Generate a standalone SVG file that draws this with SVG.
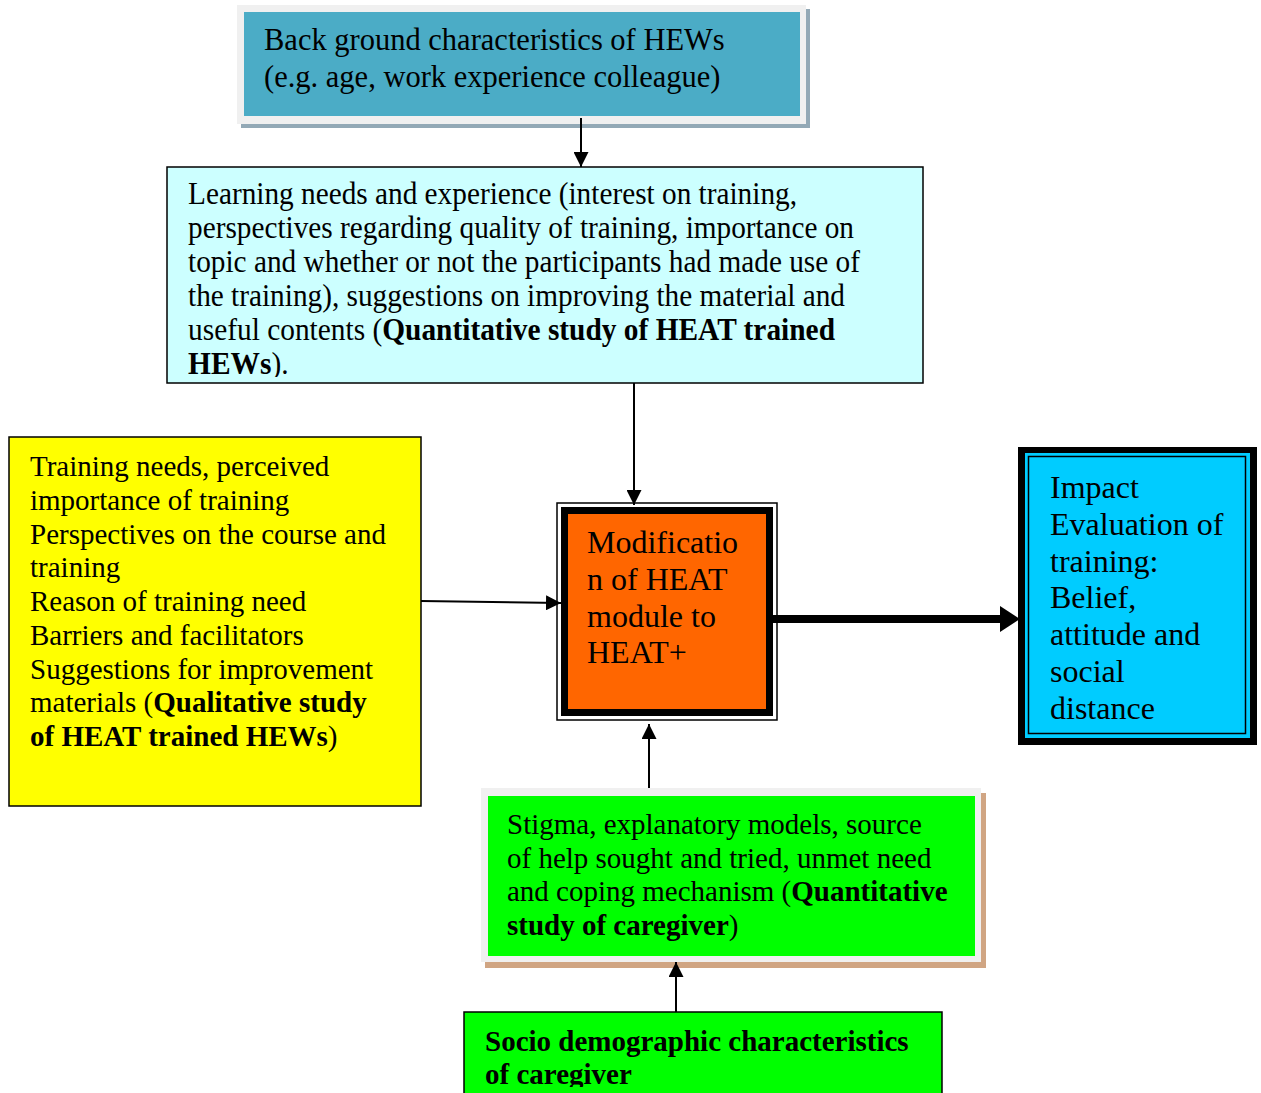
<svg xmlns="http://www.w3.org/2000/svg" width="1261" height="1093" viewBox="0 0 1261 1093">
<style>
text{font-family:"Liberation Serif","Times New Roman",serif;fill:#000}
.t29{font-size:29px}
.t30{font-size:30.5px}
.t32{font-size:32px}
.b{font-weight:bold}
.thin{fill:none;stroke:#000;stroke-width:1.5}
.conn line{stroke:#000;stroke-width:2}
</style>
<defs>
<marker id="ah" viewBox="0 0 10 10" refX="10" refY="5" markerWidth="15" markerHeight="15" markerUnits="userSpaceOnUse" orient="auto"><path d="M0,0L10,5L0,10z" fill="#000"/></marker>
<clipPath id="c2"><rect x="167" y="167" width="757" height="210"/></clipPath>
<clipPath id="c6"><rect x="464" y="1012" width="479" height="75"/></clipPath>
</defs>

<g id="n-background">
<rect x="241" y="9" width="569" height="119" fill="#93a9b6"/>
<rect x="237" y="5" width="569" height="119" fill="#f0f0f0"/>
<rect x="244" y="12" width="556" height="104" fill="#4bacc6"/>
<text class="t30" x="264" y="50">Back ground characteristics of HEWs</text>
<text class="t30" x="264" y="87">(e.g. age, work experience colleague)</text>
</g>

<g id="n-learning">
<rect x="167" y="167" width="756" height="216" class="thin" style="fill:#ccffff"/>
<g clip-path="url(#c2)" font-size="32">
<text x="188" y="204" textLength="609" lengthAdjust="spacingAndGlyphs">Learning needs and experience (interest on training,</text>
<text x="188" y="238" textLength="666" lengthAdjust="spacingAndGlyphs">perspectives regarding quality of training, importance on</text>
<text x="188" y="272" textLength="672" lengthAdjust="spacingAndGlyphs">topic and whether or not the participants had made use of</text>
<text x="188" y="306" textLength="657" lengthAdjust="spacingAndGlyphs">the training), suggestions on improving the material and</text>
<text x="188" y="340" textLength="647" lengthAdjust="spacingAndGlyphs">useful contents (<tspan class="b">Quantitative study of HEAT trained</tspan></text>
<text transform="translate(188,374) scale(0.92,1)" x="0" y="0"><tspan class="b">HEWs</tspan>).</text>
</g>
</g>

<g id="n-training">
<rect x="9" y="437" width="412" height="369" class="thin" style="fill:#ffff00"/>
<text class="t29" x="30" y="476">Training needs, perceived</text>
<text class="t29" x="30" y="510">importance of training</text>
<text class="t29" x="30" y="544">Perspectives on the course and</text>
<text class="t29" x="30" y="577">training</text>
<text class="t29" x="30" y="611">Reason of training need</text>
<text class="t29" x="30" y="645">Barriers and facilitators</text>
<text class="t29" x="30" y="679">Suggestions for improvement</text>
<text class="t29" x="30" y="712">materials (<tspan class="b">Qualitative study</tspan></text>
<text class="t29 b" x="30" y="746">of HEAT trained HEWs<tspan font-weight="normal">)</tspan></text>
</g>

<g id="n-modification">
<rect x="557" y="503" width="220" height="217" class="thin"/>
<rect x="564.5" y="510.5" width="205" height="202" fill="#ff6600" stroke="#000" stroke-width="7"/>
<text class="t32" x="587" y="553">Modificatio</text>
<text class="t32" x="587" y="590">n of HEAT</text>
<text class="t32" x="587" y="627">module to</text>
<text class="t32" x="587" y="663">HEAT+</text>
</g>

<g id="n-impact">
<rect x="1018" y="447" width="239" height="298" fill="#000"/>
<rect x="1025" y="453" width="225" height="285" fill="#00ccff"/>
<rect x="1028.5" y="456.5" width="217" height="277" class="thin"/>
<text class="t32" x="1050" y="498">Impact</text>
<text class="t32" x="1050" y="535">Evaluation of</text>
<text class="t32" x="1050" y="572">training:</text>
<text class="t32" x="1050" y="608">Belief,</text>
<text class="t32" x="1050" y="645">attitude and</text>
<text class="t32" x="1050" y="682">social</text>
<text class="t32" x="1050" y="719">distance</text>
</g>

<g id="n-stigma">
<rect x="485" y="793" width="501" height="175" fill="#d0a583"/>
<rect x="481" y="788" width="500" height="174" fill="#f0f0f0"/>
<rect x="488" y="796" width="487" height="160" fill="#00ff00"/>
<text class="t29" x="507" y="834">Stigma, explanatory models, source</text>
<text class="t29" x="507" y="868">of help sought and tried, unmet need</text>
<text class="t29" x="507" y="901">and coping mechanism (<tspan class="b">Quantitative</tspan></text>
<text class="t29" x="507" y="935"><tspan class="b">study of caregiver</tspan>)</text>
</g>

<g id="n-socio">
<rect x="464" y="1012" width="478" height="100" class="thin" style="fill:#00ff00"/>
<g clip-path="url(#c6)">
<text class="t29 b" x="485" y="1051">Socio demographic characteristics</text>
<text class="t29 b" x="485" y="1084">of caregiver</text>
</g>
</g>

<g id="connectors" class="conn">
<line x1="581" y1="118" x2="581" y2="167" marker-end="url(#ah)"/>
<line x1="634" y1="383" x2="634" y2="505" marker-end="url(#ah)"/>
<line x1="421" y1="601" x2="561" y2="603" marker-end="url(#ah)"/>
<line x1="649" y1="788" x2="649" y2="724" marker-end="url(#ah)"/>
<line x1="676" y1="1012" x2="676" y2="962" marker-end="url(#ah)"/>
<line x1="773" y1="619" x2="1002" y2="619" style="stroke-width:8"/>
<polygon points="1000,606 1020,619 1000,632" fill="#000"/>
</g>
</svg>
